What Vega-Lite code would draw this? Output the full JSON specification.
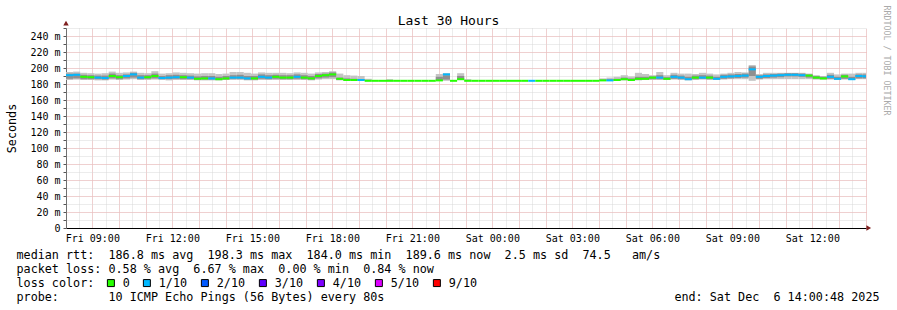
{
  "$schema": "https://vega.github.io/schema/vega-lite/v6.json",
  "width": 800,
  "height": 200,
  "autosize": {"type": "none"},
  "padding": {"left": 66, "top": 28, "right": 31, "bottom": 82},
  "background": "#ffffff",
  "config": {"view": {"stroke": null}, "font": "DejaVu Sans Mono"},
  "data": {
    "format": {"parse": {"t": "date"}},
    "values": [
      {"t": "2025-12-05T08:00:48Z", "lo": 185, "hi": 195, "a": 186.5, "b": 193, "med": 191, "loss": "1/10"},
      {"t": "2025-12-05T08:16:48Z", "lo": 185.5, "hi": 195.5, "a": 187, "b": 193, "med": 191.5, "loss": "1/10"},
      {"t": "2025-12-05T08:32:48Z", "lo": 185, "hi": 194, "a": 186, "b": 191.5, "med": 189, "loss": "0"},
      {"t": "2025-12-05T08:48:48Z", "lo": 185, "hi": 193.5, "a": 186, "b": 191, "med": 188.5, "loss": "0"},
      {"t": "2025-12-05T09:04:48Z", "lo": 184.5, "hi": 193, "a": 186, "b": 190.5, "med": 188, "loss": "1/10"},
      {"t": "2025-12-05T09:20:48Z", "lo": 184.5, "hi": 193.5, "a": 185.5, "b": 190.5, "med": 187.5, "loss": "1/10"},
      {"t": "2025-12-05T09:36:48Z", "lo": 185.5, "hi": 195.5, "a": 187, "b": 193, "med": 190, "loss": "0"},
      {"t": "2025-12-05T09:52:48Z", "lo": 185, "hi": 194, "a": 186, "b": 191, "med": 188.5, "loss": "0"},
      {"t": "2025-12-05T10:08:48Z", "lo": 185.5, "hi": 194.5, "a": 187, "b": 192, "med": 190, "loss": "1/10"},
      {"t": "2025-12-05T10:24:48Z", "lo": 186, "hi": 195.5, "a": 188, "b": 194, "med": 192, "loss": "1/10"},
      {"t": "2025-12-05T10:40:48Z", "lo": 185, "hi": 194, "a": 186, "b": 191, "med": 188, "loss": "1/10"},
      {"t": "2025-12-05T10:56:48Z", "lo": 185, "hi": 193.5, "a": 186.5, "b": 191, "med": 188.5, "loss": "0"},
      {"t": "2025-12-05T11:12:48Z", "lo": 185.5, "hi": 196, "a": 187, "b": 193, "med": 190, "loss": "0"},
      {"t": "2025-12-05T11:28:48Z", "lo": 185, "hi": 193, "a": 186, "b": 190, "med": 187.5, "loss": "1/10"},
      {"t": "2025-12-05T11:44:48Z", "lo": 184.5, "hi": 193.5, "a": 186, "b": 191, "med": 188, "loss": "1/10"},
      {"t": "2025-12-05T12:00:48Z", "lo": 185, "hi": 194.5, "a": 186.5, "b": 191.5, "med": 188.5, "loss": "1/10"},
      {"t": "2025-12-05T12:16:48Z", "lo": 185, "hi": 194, "a": 186, "b": 191, "med": 188.5, "loss": "0"},
      {"t": "2025-12-05T12:32:48Z", "lo": 185, "hi": 193.5, "a": 186, "b": 190.5, "med": 188, "loss": "1/10"},
      {"t": "2025-12-05T12:48:48Z", "lo": 184.5, "hi": 193, "a": 185.5, "b": 189.5, "med": 186.5, "loss": "0"},
      {"t": "2025-12-05T13:04:48Z", "lo": 184.5, "hi": 193.5, "a": 185.5, "b": 190, "med": 187, "loss": "0"},
      {"t": "2025-12-05T13:20:48Z", "lo": 184.5, "hi": 193.5, "a": 185.5, "b": 190, "med": 187, "loss": "1/10"},
      {"t": "2025-12-05T13:36:48Z", "lo": 184.5, "hi": 192.5, "a": 185, "b": 189, "med": 186, "loss": "0"},
      {"t": "2025-12-05T13:52:48Z", "lo": 185, "hi": 193, "a": 185.5, "b": 190, "med": 187, "loss": "0"},
      {"t": "2025-12-05T14:08:48Z", "lo": 185, "hi": 195, "a": 186.5, "b": 191, "med": 188, "loss": "1/10"},
      {"t": "2025-12-05T14:24:48Z", "lo": 185, "hi": 195, "a": 186.5, "b": 191.5, "med": 188, "loss": "1/10"},
      {"t": "2025-12-05T14:40:48Z", "lo": 184.5, "hi": 194, "a": 185.5, "b": 190, "med": 187, "loss": "1/10"},
      {"t": "2025-12-05T14:56:48Z", "lo": 184.5, "hi": 193, "a": 185.5, "b": 190, "med": 187, "loss": "0"},
      {"t": "2025-12-05T15:12:48Z", "lo": 185, "hi": 194.5, "a": 186.5, "b": 192, "med": 189, "loss": "1/10"},
      {"t": "2025-12-05T15:28:48Z", "lo": 185, "hi": 194, "a": 186, "b": 191, "med": 188, "loss": "1/10"},
      {"t": "2025-12-05T15:44:48Z", "lo": 185, "hi": 194, "a": 186.5, "b": 191.5, "med": 189, "loss": "0"},
      {"t": "2025-12-05T16:00:48Z", "lo": 185, "hi": 194, "a": 186, "b": 191, "med": 188, "loss": "0"},
      {"t": "2025-12-05T16:16:48Z", "lo": 185, "hi": 193.5, "a": 186, "b": 191, "med": 188, "loss": "0"},
      {"t": "2025-12-05T16:32:48Z", "lo": 185, "hi": 194.5, "a": 186.5, "b": 192, "med": 189, "loss": "1/10"},
      {"t": "2025-12-05T16:48:48Z", "lo": 185, "hi": 194, "a": 186, "b": 191, "med": 188, "loss": "0"},
      {"t": "2025-12-05T17:04:48Z", "lo": 184.5, "hi": 193, "a": 185.5, "b": 190, "med": 187, "loss": "0"},
      {"t": "2025-12-05T17:20:48Z", "lo": 185.5, "hi": 194.5, "a": 187, "b": 192.5, "med": 190, "loss": "0"},
      {"t": "2025-12-05T17:36:48Z", "lo": 186, "hi": 195, "a": 188, "b": 193, "med": 191, "loss": "0"},
      {"t": "2025-12-05T17:52:48Z", "lo": 186, "hi": 196, "a": 188.5, "b": 194.5, "med": 192, "loss": "0"},
      {"t": "2025-12-05T18:08:48Z", "lo": 184.5, "hi": 193, "a": 185, "b": 188, "med": 186.5, "loss": "0"},
      {"t": "2025-12-05T18:24:48Z", "lo": 184, "hi": 191, "a": 184.5, "b": 187, "med": 185, "loss": "0"},
      {"t": "2025-12-05T18:40:48Z", "lo": 184, "hi": 190.5, "a": 184.5, "b": 186.5, "med": 185, "loss": "0"},
      {"t": "2025-12-05T18:56:48Z", "lo": 184, "hi": 190, "a": 184.5, "b": 186, "med": 185, "loss": "1/10"},
      {"t": "2025-12-05T19:12:48Z", "lo": 183.5, "hi": 186.5, "med": 184, "loss": "0"},
      {"t": "2025-12-05T19:28:48Z", "med": 184, "loss": "0"},
      {"t": "2025-12-05T19:44:48Z", "med": 184, "loss": "0"},
      {"t": "2025-12-05T20:00:48Z", "lo": 183.5, "hi": 186, "med": 184, "loss": "0"},
      {"t": "2025-12-05T20:16:48Z", "med": 184, "loss": "0"},
      {"t": "2025-12-05T20:32:48Z", "med": 184, "loss": "0"},
      {"t": "2025-12-05T20:48:48Z", "med": 184, "loss": "0"},
      {"t": "2025-12-05T21:04:48Z", "med": 184, "loss": "0"},
      {"t": "2025-12-05T21:20:48Z", "med": 184, "loss": "0"},
      {"t": "2025-12-05T21:36:48Z", "med": 184, "loss": "0"},
      {"t": "2025-12-05T21:52:48Z", "lo": 184, "hi": 192.5, "a": 184.5, "b": 189, "med": 184.5, "loss": "0"},
      {"t": "2025-12-05T22:08:48Z", "lo": 184, "hi": 193.7, "a": 185.5, "b": 191, "med": 192, "loss": "1/10"},
      {"t": "2025-12-05T22:24:48Z", "med": 184, "loss": "0"},
      {"t": "2025-12-05T22:40:48Z", "lo": 185, "hi": 193.5, "a": 185.5, "b": 190, "med": 186, "loss": "0"},
      {"t": "2025-12-05T22:56:48Z", "lo": 183.5, "hi": 186, "med": 184, "loss": "0"},
      {"t": "2025-12-05T23:12:48Z", "med": 184, "loss": "0"},
      {"t": "2025-12-05T23:28:48Z", "med": 184, "loss": "0"},
      {"t": "2025-12-05T23:44:48Z", "med": 184, "loss": "0"},
      {"t": "2025-12-06T00:00:48Z", "med": 184, "loss": "0"},
      {"t": "2025-12-06T00:16:48Z", "med": 184, "loss": "0"},
      {"t": "2025-12-06T00:32:48Z", "med": 184, "loss": "0"},
      {"t": "2025-12-06T00:48:48Z", "med": 184, "loss": "0"},
      {"t": "2025-12-06T01:04:48Z", "med": 184, "loss": "0"},
      {"t": "2025-12-06T01:20:48Z", "med": 184, "loss": "1/10"},
      {"t": "2025-12-06T01:36:48Z", "med": 184, "loss": "0"},
      {"t": "2025-12-06T01:52:48Z", "med": 184, "loss": "0"},
      {"t": "2025-12-06T02:08:48Z", "med": 184, "loss": "0"},
      {"t": "2025-12-06T02:24:48Z", "med": 184, "loss": "0"},
      {"t": "2025-12-06T02:40:48Z", "med": 184, "loss": "0"},
      {"t": "2025-12-06T02:56:48Z", "med": 184, "loss": "0"},
      {"t": "2025-12-06T03:12:48Z", "med": 184, "loss": "0"},
      {"t": "2025-12-06T03:28:48Z", "med": 184, "loss": "0"},
      {"t": "2025-12-06T03:44:48Z", "med": 184, "loss": "0"},
      {"t": "2025-12-06T04:00:48Z", "lo": 184, "hi": 187, "a": 184, "b": 185.5, "med": 184.5, "loss": "0"},
      {"t": "2025-12-06T04:16:48Z", "lo": 184, "hi": 188, "a": 184, "b": 186, "med": 184.5, "loss": "1/10"},
      {"t": "2025-12-06T04:32:48Z", "lo": 184, "hi": 189, "a": 184.5, "b": 186.5, "med": 185, "loss": "0"},
      {"t": "2025-12-06T04:48:48Z", "lo": 184.5, "hi": 191, "a": 185, "b": 188, "med": 186, "loss": "0"},
      {"t": "2025-12-06T05:04:48Z", "lo": 184, "hi": 189.5, "a": 184.5, "b": 187, "med": 185, "loss": "0"},
      {"t": "2025-12-06T05:20:48Z", "lo": 184.5, "hi": 194, "a": 185, "b": 189, "med": 186.5, "loss": "0"},
      {"t": "2025-12-06T05:36:48Z", "lo": 185, "hi": 192.5, "a": 185.5, "b": 189, "med": 186.5, "loss": "0"},
      {"t": "2025-12-06T05:52:48Z", "lo": 185, "hi": 191, "a": 186, "b": 189.5, "med": 188, "loss": "0"},
      {"t": "2025-12-06T06:08:48Z", "lo": 185, "hi": 195, "a": 186, "b": 191, "med": 188, "loss": "1/10"},
      {"t": "2025-12-06T06:24:48Z", "lo": 185, "hi": 191, "a": 185.5, "b": 188.5, "med": 186.5, "loss": "0"},
      {"t": "2025-12-06T06:40:48Z", "lo": 185.5, "hi": 194, "a": 186.5, "b": 191.5, "med": 189, "loss": "1/10"},
      {"t": "2025-12-06T06:56:48Z", "lo": 185, "hi": 193, "a": 186, "b": 190.5, "med": 188, "loss": "1/10"},
      {"t": "2025-12-06T07:12:48Z", "lo": 184.5, "hi": 193, "a": 185, "b": 189, "med": 186, "loss": "1/10"},
      {"t": "2025-12-06T07:28:48Z", "lo": 185, "hi": 192.5, "a": 186, "b": 190.5, "med": 188, "loss": "0"},
      {"t": "2025-12-06T07:44:48Z", "lo": 185.5, "hi": 194, "a": 186.5, "b": 191, "med": 188, "loss": "1/10"},
      {"t": "2025-12-06T08:00:48Z", "lo": 185, "hi": 193, "a": 186, "b": 190.5, "med": 188, "loss": "0"},
      {"t": "2025-12-06T08:16:48Z", "lo": 185, "hi": 192, "a": 185.5, "b": 189, "med": 186.5, "loss": "1/10"},
      {"t": "2025-12-06T08:32:48Z", "lo": 185.5, "hi": 193, "a": 186.5, "b": 191.5, "med": 189, "loss": "1/10"},
      {"t": "2025-12-06T08:48:48Z", "lo": 186, "hi": 194, "a": 187, "b": 192, "med": 189.5, "loss": "1/10"},
      {"t": "2025-12-06T09:04:48Z", "lo": 186, "hi": 195, "a": 187.5, "b": 192.5, "med": 190, "loss": "1/10"},
      {"t": "2025-12-06T09:20:48Z", "lo": 186, "hi": 194.5, "a": 188, "b": 193, "med": 190.5, "loss": "1/10"},
      {"t": "2025-12-06T09:36:48Z", "lo": 184, "hi": 203.7, "a": 190, "b": 202, "med": 198.3, "loss": "1/10"},
      {"t": "2025-12-06T09:52:48Z", "lo": 185.5, "hi": 192.5, "a": 186.5, "b": 191, "med": 189, "loss": "1/10"},
      {"t": "2025-12-06T10:08:48Z", "lo": 186, "hi": 194, "a": 187.5, "b": 192, "med": 190, "loss": "1/10"},
      {"t": "2025-12-06T10:24:48Z", "lo": 186, "hi": 194, "a": 188, "b": 192.5, "med": 190.5, "loss": "1/10"},
      {"t": "2025-12-06T10:40:48Z", "lo": 186, "hi": 194, "a": 188.5, "b": 193, "med": 191, "loss": "1/10"},
      {"t": "2025-12-06T10:56:48Z", "lo": 186, "hi": 194, "a": 189.5, "b": 193.5, "med": 191.5, "loss": "1/10"},
      {"t": "2025-12-06T11:12:48Z", "lo": 186, "hi": 194, "a": 189.5, "b": 193.5, "med": 191.5, "loss": "1/10"},
      {"t": "2025-12-06T11:28:48Z", "lo": 186, "hi": 194, "a": 189, "b": 193, "med": 191, "loss": "1/10"},
      {"t": "2025-12-06T11:44:48Z", "lo": 186, "hi": 193, "a": 188, "b": 192, "med": 190.5, "loss": "0"},
      {"t": "2025-12-06T12:00:48Z", "lo": 185.5, "hi": 191, "a": 186.5, "b": 190, "med": 188, "loss": "0"},
      {"t": "2025-12-06T12:16:48Z", "lo": 185.5, "hi": 190, "a": 186, "b": 189, "med": 187, "loss": "0"},
      {"t": "2025-12-06T12:32:48Z", "lo": 185.5, "hi": 194, "a": 186.5, "b": 191.5, "med": 189, "loss": "1/10"},
      {"t": "2025-12-06T12:48:48Z", "lo": 185, "hi": 192, "a": 185.5, "b": 189, "med": 186.5, "loss": "1/10"},
      {"t": "2025-12-06T13:04:48Z", "lo": 185.5, "hi": 193, "a": 186.5, "b": 191.5, "med": 189.5, "loss": "0"},
      {"t": "2025-12-06T13:20:48Z", "lo": 185, "hi": 193, "a": 185.5, "b": 189, "med": 186, "loss": "1/10"},
      {"t": "2025-12-06T13:36:48Z", "lo": 186, "hi": 194, "a": 187, "b": 192, "med": 190, "loss": "1/10"},
      {"t": "2025-12-06T13:52:48Z", "lo": 186, "hi": 194, "a": 187, "b": 192, "med": 189.6, "loss": "1/10"},
      {"t": "2025-12-06T14:00:48Z"}
    ]
  },
  "transform": [
    {"window": [{"op": "lead", "field": "t", "as": "e"}], "sort": [{"field": "t", "order": "ascending"}]}
  ],
  "layer": [
    {
      "mark": {"type": "rect", "color": "#c4c4c4"},
      "encoding": {
        "x": {
          "field": "t", "type": "temporal",
          "scale": {"type": "utc", "nice": false, "domain": [1764921648000, 1765029648000]},
          "axis": {
            "values": [1764923400000, 1764925200000, 1764927000000, 1764928800000, 1764930600000, 1764932400000, 1764934200000, 1764936000000, 1764937800000, 1764939600000, 1764941400000, 1764943200000, 1764945000000, 1764946800000, 1764948600000, 1764950400000, 1764952200000, 1764954000000, 1764955800000, 1764957600000, 1764959400000, 1764961200000, 1764963000000, 1764964800000, 1764966600000, 1764968400000, 1764970200000, 1764972000000, 1764973800000, 1764975600000, 1764977400000, 1764979200000, 1764981000000, 1764982800000, 1764984600000, 1764986400000, 1764988200000, 1764990000000, 1764991800000, 1764993600000, 1764995400000, 1764997200000, 1764999000000, 1765000800000, 1765002600000, 1765004400000, 1765006200000, 1765008000000, 1765009800000, 1765011600000, 1765013400000, 1765015200000, 1765017000000, 1765018800000, 1765020600000, 1765022400000, 1765024200000, 1765026000000, 1765027800000, 1765029600000],
            "grid": true, "gridColor": "#d8d8d8", "gridDash": [1, 1],
            "ticks": false,
            "labelExpr": "utcminutes(datum.value) == 0 && utchours(datum.value) % 3 == 0 ? utcFormat(datum.value, '%a %H:%M') : ''",
            "labelFont": "DejaVu Sans Mono", "labelFontSize": 10, "labelColor": "#000000",
            "labelPadding": 5.5, "labelOverlap": false, "labelFlush": false, "labelBound": false,
            "domainColor": "#000000", "domainWidth": 1,
            "title": [
              "median rtt:\u00a0\u00a0186.8 ms avg\u00a0\u00a0198.3 ms max\u00a0\u00a0184.0 ms min\u00a0\u00a0189.6 ms now\u00a0\u00a02.5 ms sd\u00a0\u00a074.5\u00a0\u00a0\u00a0am/s",
              "packet loss: 0.58 % avg\u00a0\u00a06.67 % max\u00a0\u00a00.00 % min\u00a0\u00a00.84 % now",
              "loss color:",
              "probe:\u00a0\u00a0\u00a0\u00a0\u00a0\u00a0\u00a010 ICMP Echo Pings (56 Bytes) every 80s\u00a0\u00a0\u00a0\u00a0\u00a0\u00a0\u00a0\u00a0\u00a0\u00a0\u00a0\u00a0\u00a0\u00a0\u00a0\u00a0\u00a0\u00a0\u00a0\u00a0\u00a0\u00a0\u00a0\u00a0\u00a0\u00a0\u00a0\u00a0\u00a0\u00a0\u00a0\u00a0\u00a0\u00a0\u00a0\u00a0\u00a0\u00a0\u00a0\u00a0\u00a0end: Sat Dec\u00a0\u00a06 14:00:48 2025"
            ],
            "titleFont": "DejaVu Sans Mono", "titleFontSize": 11.75, "titleFontWeight": "normal", "titleColor": "#000000",
            "titleAlign": "left", "titleAnchor": "start", "titleBaseline": "top",
            "titleX": -50, "titleY": 21, "titleLineHeight": 14
          }
        },
        "x2": {"field": "e"},
        "y": {
          "field": "lo", "type": "quantitative",
          "scale": {"domain": [0, 250], "nice": false},
          "axis": {
            "values": [0, 10, 20, 30, 40, 50, 60, 70, 80, 90, 100, 110, 120, 130, 140, 150, 160, 170, 180, 190, 200, 210, 220, 230, 240, 250],
            "grid": true, "gridColor": "#d8d8d8", "gridDash": [1, 1],
            "labelExpr": "datum.value % 20 == 0 ? (datum.value == 0 ? '0' : datum.value + ' m') : ''",
            "tickSize": 3, "tickColor": "#555555",
            "labelPadding": 3,
            "labelFont": "DejaVu Sans Mono", "labelFontSize": 10, "labelColor": "#000000", "labelOverlap": false,
            "domainColor": "#707070",
            "title": "Seconds",
            "titleFont": "DejaVu Sans Mono", "titleFontSize": 11.75, "titleFontWeight": "normal", "titleColor": "#000000",
            "titlePadding": 12
          }
        },
        "y2": {"field": "hi"}
      }
    },
    {
      "mark": {"type": "rect", "color": "#8f8f8f"},
      "encoding": {
        "x": {"field": "t", "type": "temporal",
          "scale": {"type": "utc", "nice": false, "domain": [1764921648000, 1765029648000]},
          "axis": {
            "values": [1764925200000, 1764928800000, 1764932400000, 1764936000000, 1764939600000, 1764943200000, 1764946800000, 1764950400000, 1764954000000, 1764957600000, 1764961200000, 1764964800000, 1764968400000, 1764972000000, 1764975600000, 1764979200000, 1764982800000, 1764986400000, 1764990000000, 1764993600000, 1764997200000, 1765000800000, 1765004400000, 1765008000000, 1765011600000, 1765015200000, 1765018800000, 1765022400000, 1765026000000, 1765029600000],
            "grid": true, "gridColor": "#f3b4b4", "gridDash": [1, 1],
            "labels": false, "ticks": false, "domain": false, "title": null
          }
        },
        "x2": {"field": "e"},
        "y": {"field": "a", "type": "quantitative", "scale": {"domain": [0, 250], "nice": false},
          "axis": {
            "values": [20, 40, 60, 80, 100, 120, 140, 160, 180, 200, 220, 240],
            "grid": true, "gridColor": "#f3b4b4", "gridDash": [1, 1],
            "labels": false, "ticks": false, "domain": false, "title": null
          }
        },
        "y2": {"field": "b"}
      }
    },
    {
      "mark": {"type": "rule", "strokeWidth": 2, "strokeCap": "butt"},
      "encoding": {
        "x": {"field": "t", "type": "temporal", "axis": null,
          "scale": {"type": "utc", "nice": false, "domain": [1764921648000, 1765029648000]}},
        "x2": {"field": "e"},
        "y": {"field": "med", "type": "quantitative", "axis": null, "scale": {"domain": [0, 250], "nice": false}},
        "color": {
          "field": "loss", "type": "nominal",
          "scale": {
            "domain": ["0", "1/10", "2/10", "3/10", "4/10", "5/10", "9/10"],
            "range": ["#26ff00", "#00b8ff", "#0059ff", "#5e00ff", "#7e00ff", "#dd00ff", "#ff0000"]
          },
          "legend": null
        }
      }
    },
    {
      "mark": {"type": "point", "shape": "square", "filled": true, "opacity": 0, "size": 4},
      "encoding": {
        "x": {"field": "t", "type": "temporal", "axis": null,
          "scale": {"type": "utc", "nice": false, "domain": [1764921648000, 1765029648000]}},
        "y": {"field": "med", "type": "quantitative", "axis": null, "scale": {"domain": [0, 250], "nice": false}},
        "color": {
          "field": "loss", "type": "nominal",
          "scale": {
            "domain": ["0", "1/10", "2/10", "3/10", "4/10", "5/10", "9/10"],
            "range": ["#26ff00", "#00b8ff", "#0059ff", "#5e00ff", "#7e00ff", "#dd00ff", "#ff0000"]
          },
          "legend": {
            "orient": "none", "legendX": 39, "legendY": 249,
            "direction": "horizontal", "columns": 7, "title": null, "padding": 0,
            "symbolType": "square", "symbolSize": 49, "symbolOpacity": 1,
            "symbolStrokeWidth": 1, "symbolStrokeColor": "#000000",
            "labelFont": "DejaVu Sans Mono", "labelFontSize": 11.75, "labelColor": "#000000",
            "labelOffset": 6, "columnPadding": 11
          }
        }
      }
    },
    {
      "data": {"values": [{"t": "2025-12-05T08:00:48Z", "v": 256}]},
      "mark": {"type": "point", "shape": "triangle-up", "filled": true, "color": "#7f1f1f", "size": 30, "opacity": 1},
      "encoding": {
        "x": {"field": "t", "type": "temporal",
          "scale": {"type": "utc", "nice": false, "domain": [1764921648000, 1765029648000]},
          "axis": {
            "orient": "top", "labels": false, "ticks": false, "domain": false, "grid": false,
            "title": "Last 30 Hours",
            "titleFont": "DejaVu Sans Mono", "titleFontSize": 13, "titleFontWeight": "normal", "titleColor": "#000000",
            "titleX": 382, "titleY": -4, "titleAlign": "center", "titleBaseline": "alphabetic"
          }
        },
        "y": {"field": "v", "type": "quantitative", "scale": {"domain": [0, 250], "nice": false},
          "axis": {
            "orient": "right", "labels": false, "ticks": false, "domain": false, "grid": false,
            "title": "RRDTOOL / TOBI OETIKER",
            "titleFont": "DejaVu Sans Mono", "titleFontSize": 8.3, "titleFontWeight": "normal", "titleColor": "#aaaaaa",
            "titleAngle": 90, "titleX": 17, "titleY": -23, "titleAlign": "left", "titleBaseline": "alphabetic"
          }
        }
      }
    },
    {
      "data": {"values": [{"t": "2025-12-06T14:07:00Z", "v": 0}]},
      "mark": {"type": "point", "shape": "triangle-right", "filled": true, "color": "#7f1f1f", "size": 30, "opacity": 1},
      "encoding": {
        "x": {"field": "t", "type": "temporal", "axis": null,
          "scale": {"type": "utc", "nice": false, "domain": [1764921648000, 1765029648000]}},
        "y": {"field": "v", "type": "quantitative", "axis": null, "scale": {"domain": [0, 250], "nice": false}}
      }
    }
  ],
  "resolve": {"axis": {"x": "independent", "y": "independent"}, "legend": {"color": "independent"}}
}
